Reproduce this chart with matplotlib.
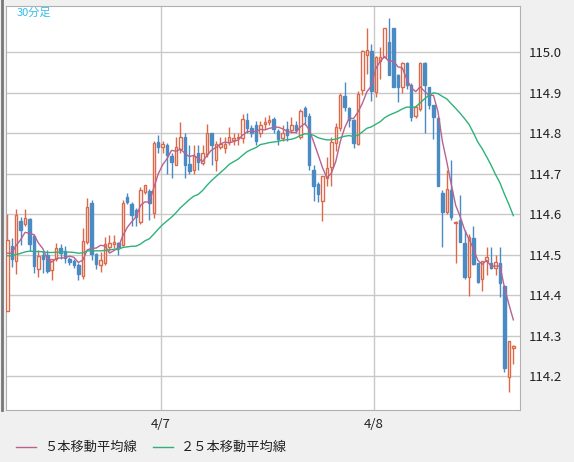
import matplotlib
matplotlib.use("Agg")
import matplotlib.pyplot as plt
import numpy as np
import pandas as pd

plt.rcParams['font.family'] = ['Noto Sans CJK JP', 'DejaVu Sans']

# OHLC (30-minute candles)
opens = [114.36,114.52,114.484,114.583,114.575,114.588,114.545,114.464,114.50,114.499,
         114.462,114.489,114.516,114.509,114.489,114.484,114.474,114.447,114.531,114.627,
         114.501,114.474,114.479,114.518,114.526,114.528,114.523,114.642,114.625,114.61,
         114.58,114.654,114.657,114.602,114.778,114.765,114.77,114.744,114.721,114.76,
         114.79,114.724,114.71,114.75,114.726,114.748,114.80,114.733,114.765,114.763,
         114.778,114.783,114.788,114.788,114.832,114.812,114.82,114.80,114.822,114.827,
         114.835,114.805,114.788,114.81,114.807,114.82,114.79,114.862,114.842,114.71,
         114.675,114.632,114.69,114.716,114.775,114.813,114.891,114.861,114.832,114.773,
         114.906,114.993,115.002,114.901,114.978,114.988,115.025,115.06,114.943,114.914,
         114.973,114.92,114.842,114.86,114.973,114.915,114.87,114.837,114.652,114.605,
         114.66,114.578,114.585,114.528,114.445,114.54,114.479,114.44,114.484,114.479,
         114.467,114.479,114.422,114.198,114.27]
highs = [114.60,114.54,114.612,114.593,114.612,114.59,114.55,114.511,114.51,114.511,
         114.475,114.528,114.526,114.52,114.495,114.49,114.48,114.565,114.64,114.635,
         114.505,114.506,114.543,114.548,114.548,114.532,114.635,114.652,114.63,114.615,
         114.668,114.672,114.662,114.78,114.795,114.78,114.775,114.75,114.79,114.827,
         114.80,114.77,114.77,114.77,114.77,114.823,114.80,114.78,114.79,114.79,
         114.815,114.80,114.80,114.847,114.85,114.82,114.83,114.83,114.84,114.845,
         114.84,114.81,114.82,114.83,114.84,114.83,114.86,114.866,114.85,114.72,
         114.68,114.695,114.74,114.79,114.825,114.90,114.926,114.865,114.835,114.904,
         115.005,115.06,115.02,114.99,115.012,115.03,115.084,115.06,114.945,114.975,
         114.975,114.925,114.87,114.975,114.975,114.915,114.87,114.84,114.66,114.71,
         114.733,114.584,114.647,114.56,114.55,114.57,114.48,114.484,114.518,114.518,
         114.50,114.518,114.425,114.287,114.276]
lows = [114.36,114.47,114.452,114.523,114.57,114.51,114.455,114.444,114.455,114.455,
        114.437,114.485,114.49,114.48,114.474,114.467,114.437,114.44,114.525,114.486,
        114.464,114.457,114.475,114.51,114.515,114.50,114.52,114.625,114.57,114.57,
        114.575,114.65,114.585,114.59,114.752,114.75,114.70,114.69,114.72,114.75,
        114.69,114.70,114.70,114.71,114.72,114.74,114.72,114.707,114.76,114.75,
        114.77,114.77,114.77,114.775,114.80,114.79,114.77,114.79,114.81,114.82,
        114.80,114.77,114.78,114.78,114.80,114.80,114.785,114.82,114.71,114.632,
        114.63,114.583,114.67,114.67,114.755,114.805,114.855,114.815,114.763,114.77,
        114.895,114.945,114.88,114.889,114.933,114.985,115.02,114.935,114.877,114.90,
        114.91,114.83,114.838,114.855,114.80,114.86,114.785,114.67,114.518,114.60,
        114.585,114.48,114.53,114.44,114.397,114.475,114.43,114.41,114.45,114.465,
        114.45,114.395,114.21,114.16,114.23]
closes = [114.536,114.49,114.598,114.56,114.59,114.525,114.472,114.496,114.49,114.46,
          114.489,114.516,114.504,114.491,114.481,114.474,114.452,114.533,114.617,114.501,
          114.477,114.486,114.526,114.528,114.531,114.518,114.627,114.63,114.598,114.593,
          114.659,114.671,114.627,114.775,114.765,114.772,114.747,114.728,114.765,114.79,
          114.721,114.706,114.743,114.728,114.75,114.80,114.77,114.773,114.773,114.773,
          114.79,114.788,114.79,114.835,114.812,114.80,114.78,114.82,114.827,114.832,
          114.81,114.785,114.80,114.795,114.82,114.807,114.854,114.842,114.72,114.67,
          114.65,114.693,114.714,114.778,114.815,114.894,114.864,114.832,114.775,114.896,
          115.002,115.005,114.904,114.988,114.988,115.06,114.943,114.914,114.914,114.973,
          114.92,114.84,114.865,114.973,114.918,114.87,114.84,114.67,114.605,114.662,
          114.593,114.58,114.53,114.445,114.543,114.477,114.432,114.484,114.494,114.467,
          114.482,114.43,114.22,114.287,114.274]
# closes before the visible window (for the 25-period average)
prev_closes = [114.50,114.51,114.49,114.50,114.48,114.49,114.50,114.51,114.50,114.49,
               114.50,114.49,114.48,114.50,114.49,114.50,114.51,114.50,114.49,114.48,
               114.49,114.50,114.49,114.50]

yticks = [114.2, 114.3, 114.4, 114.5, 114.6, 114.7, 114.8, 114.9, 115.0]
date_labels = ["4/7", "4/8"]
date_pos = [34.6, 82.6]

allc = pd.Series(prev_closes + closes)
ma5 = allc.rolling(5).mean().iloc[len(prev_closes):].values
ma25 = allc.rolling(25, min_periods=1).mean().iloc[len(prev_closes):].values

UP = '#dc6a4a'; DN = '#4b8bc3'; C5 = '#b8628f'; C25 = '#2eb27a'

fig = plt.figure(figsize=(5.74, 4.62), dpi=100, facecolor='#f0f0f0')
ax = fig.add_axes([6/574, 52/462, 514/574, 404/462])
ax.set_facecolor('white')
n = len(closes)
x = np.arange(n)
w = 0.55
for i in x:
    o, h, l, c = opens[i], highs[i], lows[i], closes[i]
    col = UP if c >= o else DN
    ax.vlines(i, l, h, color=col, lw=1, zorder=2)
    lo, hi = min(o, c), max(o, c)
    if c >= o:
        ax.add_patch(plt.Rectangle((i - w/2, lo), w, max(hi - lo, 0.001),
                                   facecolor='white', edgecolor=col, lw=1, zorder=3))
    else:
        ax.add_patch(plt.Rectangle((i - w/2, lo), w, max(hi - lo, 0.001),
                                   facecolor=col, edgecolor=col, lw=1, zorder=3))
ax.plot(x, ma5, color=C5, lw=1, zorder=4)
ax.plot(x, ma25, color=C25, lw=1, zorder=4)

ax.set_xlim(-0.3, 115.5)
ax.set_ylim(114.116, 115.114)
ax.yaxis.tick_right()
ax.set_yticks(yticks)
ax.set_yticklabels([f"{v:.1f}" for v in yticks], fontsize=9.5, color='#222222')
ax.set_xticks(date_pos)
ax.set_xticklabels(date_labels, fontsize=9.5, color='#222222')
ax.tick_params(length=0, pad=6)
ax.grid(True, color='#c8c8c8', lw=1, zorder=0)
for s in ax.spines.values():
    s.set_color('#b0b0b0')
ax.text(0.02, 0.995, "30分足", transform=ax.transAxes, fontsize=8, color='#33bbee',
        va='top', ha='left')

fig.add_artist(plt.Line2D([16/574, 36/574], [15/462, 15/462], color=C5, lw=1))
fig.text(44/574, 15/462, "５本移動平均線", fontsize=9.5, va='center', color='#222222')
fig.add_artist(plt.Line2D([153/574, 173/574], [15/462, 15/462], color=C25, lw=1))
fig.text(181/574, 15/462, "２５本移動平均線", fontsize=9.5, va='center', color='#222222')
fig.add_artist(plt.Line2D([1.5/574, 1.5/574], [52/462, 1], color='#777777', lw=2))

fig.savefig("out.png", dpi=100, facecolor=fig.get_facecolor())
